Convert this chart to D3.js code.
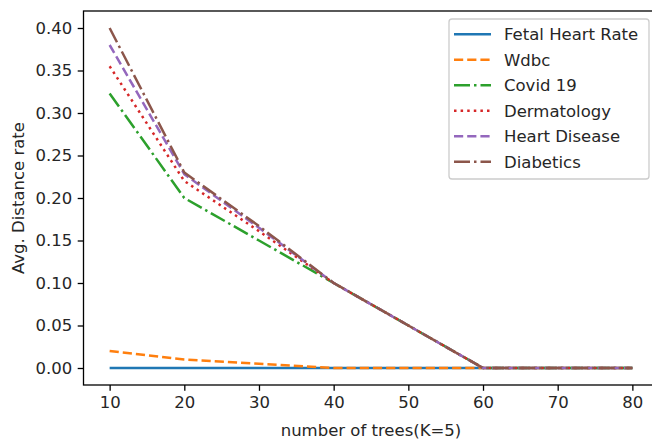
<!DOCTYPE html>
<html><head><meta charset="utf-8">
<script src="https://cdn.jsdelivr.net/npm/d3@7"></script>
<style>
html,body{margin:0;padding:0;background:#fff;}
svg{display:block;font-family:"DejaVu Sans",sans-serif;}
</style></head>
<body><svg id="chart" width="652" height="439"></svg>
<script>
const trees = [10, 20, 30, 40, 50, 60, 70, 80];
const fetalHeartRate = [0, 0, 0, 0, 0, 0, 0, 0];
const wdbc = [0.02, 0.01, 0.005, 0, 0, 0, 0, 0];
const covid19 = [0.323, 0.20, 0.15, 0.10, 0.05, 0, 0, 0];
const dermatology = [0.355, 0.22, 0.161, 0.10, 0.05, 0, 0, 0];
const heartDisease = [0.38, 0.228, 0.165, 0.10, 0.05, 0, 0, 0];
const diabetics = [0.40, 0.23, 0.167, 0.10, 0.05, 0, 0, 0];
const seriesNames = ["Fetal Heart Rate", "Wdbc", "Covid 19", "Dermatology", "Heart Disease", "Diabetics"];
const xTicks = [10, 20, 30, 40, 50, 60, 70, 80];
const yTicks = [0, 0.05, 0.10, 0.15, 0.20, 0.25, 0.30, 0.35, 0.40];
const xLabel = "number of trees(K=5)";
const yLabel = "Avg. Distance rate";

const series = [
  {name: seriesNames[0], values: fetalHeartRate, color: "#1f77b4", dash: null},
  {name: seriesNames[1], values: wdbc, color: "#ff7f0e", dash: "9.2,4"},
  {name: seriesNames[2], values: covid19, color: "#2ca02c", dash: "16,4,2.5,4"},
  {name: seriesNames[3], values: dermatology, color: "#d62728", dash: "2.5,4.1"},
  {name: seriesNames[4], values: heartDisease, color: "#9467bd", dash: "9.2,4"},
  {name: seriesNames[5], values: diabetics, color: "#8c564b", dash: "16,4,2.5,4"}
];

const svg = d3.select("#chart");
const x = d3.scaleLinear().domain([6.5, 83.5]).range([83.5, 658.5]);
const y = d3.scaleLinear().domain([-0.02, 0.42]).range([385, 11]);
const fs = 16.5;
const lw = 2.5;

// lines
const line = d3.line().x((d, i) => x(trees[i])).y(d => y(d));
const plot = svg.append("g");
series.forEach(s => {
  plot.append("path")
    .attr("d", line(s.values))
    .attr("fill", "none")
    .attr("stroke", s.color)
    .attr("stroke-width", lw)
    .attr("stroke-linejoin", "round")
    .attr("stroke-dasharray", s.dash);
});

// axes
const xAxis = d3.axisBottom(x).tickValues(xTicks).tickFormat(d3.format("d")).tickSizeOuter(0).tickSize(5.8).tickPadding(5.5);
const yAxis = d3.axisLeft(y).tickValues(yTicks).tickFormat(d3.format(".2f")).tickSizeOuter(0).tickSize(5.8).tickPadding(5.5);
const gx = svg.append("g").attr("transform", `translate(0,${y.range()[0]})`).call(xAxis);
const gy = svg.append("g").attr("transform", `translate(${x.range()[0]},0)`).call(yAxis);
[gx, gy].forEach(g => {
  g.select(".domain").remove();
  g.selectAll(".tick line").attr("stroke", "#000").attr("stroke-width", 1.3);
  g.selectAll(".tick text").attr("fill", "#262626").style("font-size", fs + "px").style("font-family", "DejaVu Sans");
});

// spines
svg.append("rect")
  .attr("x", x.range()[0]).attr("y", y.range()[1])
  .attr("width", x.range()[1] - x.range()[0]).attr("height", y.range()[0] - y.range()[1])
  .attr("fill", "none").attr("stroke", "#000").attr("stroke-width", 1.3);

// axis labels
svg.append("text").attr("x", (x.range()[0] + x.range()[1]) / 2).attr("y", 436)
  .attr("text-anchor", "middle").attr("fill", "#262626").style("font-size", fs + "px").text(xLabel);
svg.append("text").attr("transform", `translate(24,${(y.range()[0] + y.range()[1]) / 2}) rotate(-90)`)
  .attr("text-anchor", "middle").attr("fill", "#262626").style("font-size", fs + "px").text(yLabel);

// legend
const lg = svg.append("g");
const lx = 449, ly = 19, lwid = 200, lh = 160;
lg.append("rect").attr("x", lx).attr("y", ly).attr("width", lwid).attr("height", lh)
  .attr("rx", 3).attr("fill", "rgba(255,255,255,0.8)").attr("stroke", "#cccccc").attr("stroke-width", 1.3);
series.forEach((s, i) => {
  const cy = 34.3 + i * 25.5;
  lg.append("line").attr("x1", 454).attr("x2", 491).attr("y1", cy).attr("y2", cy)
    .attr("stroke", s.color).attr("stroke-width", lw).attr("stroke-dasharray", s.dash);
  lg.append("text").attr("x", 504).attr("y", cy).attr("dy", "0.36em")
    .attr("fill", "#262626").style("font-size", fs + "px").text(s.name);
});
</script></body></html>
